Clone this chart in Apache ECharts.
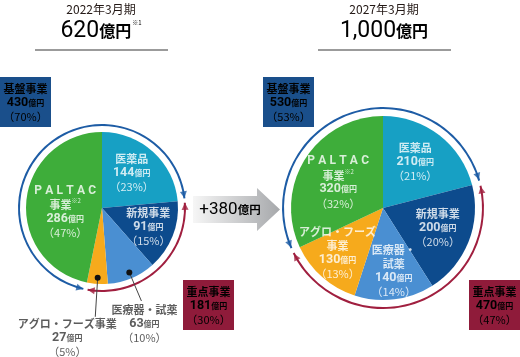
<!DOCTYPE html>
<html><head><meta charset="utf-8">
<script src="https://cdn.jsdelivr.net/npm/echarts@6/dist/echarts.min.js"></script>
<style>html,body{margin:0;padding:0;background:#fff}#c{width:520px;height:357px}</style>
</head><body><div id="c"></div>
<script>
// ---- data ----
const segments = ['医薬品', '新規事業', '医療器・試薬', 'アグロ・フーズ事業', 'PALTAC事業'];
const values2022 = [144, 91, 63, 27, 286];
const pct2022 = [23, 15, 10, 5, 47];
const values2027 = [210, 200, 140, 130, 320];
const pct2027 = [21, 20, 14, 13, 32];
const periods = ['2022年3月期', '2027年3月期'];
const totals = [620, 1000];
const groupNames = ['基盤事業', '重点事業'];
const baseMembers = [0, 4];          // 医薬品 + PALTAC
const focusMembers = [1, 2, 3];      // 新規 + 医療器 + アグロ
const groupPct2022 = [70, 30];
const groupPct2027 = [53, 47];

// ---- style / layout ----
const F = '"Noto Sans CJK JP", "Noto Sans", sans-serif';
const NF = 'Roboto, "Noto Sans", sans-serif';
const sliceColors = ['#17a0c4', '#0d4b8d', '#4a8fd2', '#f6aa1c', '#3ead3a'];
const ringBlue = '#1d5ca5', ringRed = '#a01f3f';
const boxBlue = '#1a4f8b', boxRed = '#8f1b3a';
// label placement: [radius, dx, dy, position]
const P = [
  {cx: 102, cy: 208, r: 76, ring: 83,
   labels: [[38, 4, -7, 'inside'], [38, 11, 5, 'inside'], [101, 3, -1, 'bottom'], [109, -28, -3, 'bottom'], [38, 1, 8, 'inside']],
   outside: [2, 3]},
  {cx: 383, cy: 208, r: 92, ring: 100,
   labels: [[46, 4, -10, 'inside'], [46, 12, 3, 'inside'], [46, 5, 17, 'inside'], [46, -15, 10, 'inside'], [46, -6, -1, 'inside']],
   outside: []}
];
const labelText = [
  ['医薬品', '新規事業', '医療器・試薬', 'アグロ・フーズ事業', 'PALTAC|事業'],
  ['医薬品', '新規事業', '医療器・|試薬', 'アグロ・フーズ|事業', 'PALTAC|事業']
];

function makeRich(color) {
  return {
    n: {fontFamily: F, fontSize: 11, fontWeight: 'bold', lineHeight: 14, color: color},
    p: {fontFamily: NF, fontSize: 12, fontWeight: 'bold', lineHeight: 14, color: color, padding: [0, 1.6]},
    v: {fontFamily: NF, fontSize: 12.5, fontWeight: 'bold', lineHeight: 14, color: color},
    u: {fontFamily: F, fontSize: 8, fontWeight: 'bold', lineHeight: 14, color: color},
    s: {fontFamily: F, fontSize: 6, lineHeight: 14, color: color, verticalAlign: 'top'},
    c: {fontFamily: F, fontSize: 11, lineHeight: 14, color: color}
  };
}
function labelFmt(name, val, pct) {
  const parts = name.split('|');
  const lines = parts.map(t => {
    if (t === 'PALTAC') return t.split('').map(ch => '{p|' + ch + '}').join('');
    return '{n|' + t + '}' + (t === '事業' && parts[0] === 'PALTAC' ? '{s|※2}' : '');
  });
  return lines.join('\n') + '\n{v|' + val + '}{u|億円}\n{c|（' + pct + '%）}';
}

const yearData = [[values2022, pct2022], [values2027, pct2027]];
const series = [];
const polars = [], angleAxes = [], radiusAxes = [];

yearData.forEach(([vals, pcts], k) => {
  const L = P[k];
  const total = vals.reduce((a, b) => a + b, 0);
  const deg = v => v / total * 360;
  const cum = []; let acc = 0;
  vals.forEach(v => { cum.push(acc); acc += v; });
  // slices
  series.push({
    type: 'pie', center: [L.cx, L.cy], radius: L.r, startAngle: 90, clockwise: true,
    silent: true, animation: false, avoidLabelOverlap: false,
    itemStyle: {borderWidth: 0}, label: {show: false}, labelLine: {show: false},
    data: segments.map((s, i) => ({name: s, value: vals[i], itemStyle: {color: sliceColors[i]}}))
  });
  // group ring
  const baseVal = baseMembers.reduce((a, i) => a + vals[i], 0);
  const focusVal = focusMembers.reduce((a, i) => a + vals[i], 0);
  const paltacStart = cum[4];
  series.push({
    type: 'pie', center: [L.cx, L.cy], radius: [L.ring - 1, L.ring + 1],
    startAngle: 90 - deg(paltacStart), clockwise: true, padAngle: 3,
    silent: true, animation: false, label: {show: false}, labelLine: {show: false},
    data: [{name: groupNames[0], value: baseVal, itemStyle: {color: ringBlue}},
           {name: groupNames[1], value: focusVal, itemStyle: {color: ringRed}}]
  });
  // polar system sharing the pie centre
  polars.push({center: [L.cx, L.cy], radius: 130});
  angleAxes.push({polarIndex: k, type: 'value', min: 0, max: 360, startAngle: 90, clockwise: true,
    show: false, axisLine: {show: false}, axisTick: {show: false}, axisLabel: {show: false}, splitLine: {show: false}});
  radiusAxes.push({polarIndex: k, type: 'value', min: 0, max: 130, show: false,
    axisLine: {show: false}, axisTick: {show: false}, axisLabel: {show: false}, splitLine: {show: false}});
  // arrowheads
  const B1 = deg(cum[1]), B2 = deg(paltacStart), d = 4;
  const cw = t => -t - 90, ccw = t => 90 - t;
  const heads = [[B1 - d, cw, ringBlue], [B1 + d, ccw, ringRed], [B2 - d, cw, ringRed], [B2 + d, ccw, ringBlue]];
  series.push({
    type: 'scatter', coordinateSystem: 'polar', polarIndex: k, silent: true, animation: false,
    symbol: 'triangle', symbolSize: [7, 7],
    data: heads.map(([t, f, c]) => ({value: [L.ring, t], symbolRotate: f(t), itemStyle: {color: c}}))
  });
  // leader lines for outside labels
  L.outside.forEach(i => {
    const mid = deg(cum[i] + vals[i] / 2);
    series.push({
      type: 'line', coordinateSystem: 'polar', polarIndex: k, silent: true, animation: false,
      lineStyle: {color: '#444', width: 1}, itemStyle: {color: '#111'},
      data: [{value: [70, mid], symbol: 'circle', symbolSize: 6},
             {value: [L.labels[i][0], mid], symbol: 'none'}]
    });
  });
  // slice labels anchored at each slice's mid-angle
  series.push({
    type: 'scatter', coordinateSystem: 'polar', polarIndex: k, silent: true, animation: false,
    symbolSize: 0, z: 5,
    data: segments.map((s, i) => {
      const [lr, dx, dy, pos] = L.labels[i];
      const out = L.outside.indexOf(i) >= 0;
      const txt = out ? labelText[k][i].replace('|', '') : labelText[k][i];
      return {name: s, value: [lr, deg(cum[i] + vals[i] / 2)],
        label: {show: true, position: pos, distance: 3, offset: [dx, dy], align: 'center',
                rich: makeRich(out ? '#333' : '#fff'), formatter: labelFmt(txt, vals[i], pcts[i])}};
    })
  });
});

// ---- decorations ----
const graphic = [];
const titleX = [101, 384];
periods.forEach((p, k) => {
  graphic.push({type: 'text', x: titleX[k], y: 9, style: {text: p, font: '12px ' + F, fill: '#231815', align: 'center', verticalAlign: 'middle'}});
  graphic.push({type: 'text', x: titleX[k], y: 31, style: {
    text: '{b|' + totals[k].toLocaleString('en-US') + '}{u|億円}' + (k === 0 ? '{s|※1}' : ''),
    align: 'center', verticalAlign: 'middle',
    rich: {b: {fontFamily: NF, fontSize: 23, color: '#231815'},
           u: {fontFamily: F, fontSize: 16, fontWeight: 'bold', color: '#231815'},
           s: {fontFamily: F, fontSize: 6, color: '#231815', verticalAlign: 'top', padding: [0, 0, 10, 1]}}
  }});
  graphic.push({type: 'line', shape: {x1: titleX[k] - 66, y1: 50, x2: titleX[k] + 67, y2: 50}, style: {stroke: '#7a7a7a', lineWidth: 1.3}});
});
function box(x, y, color, name, val, pct) {
  graphic.push({type: 'rect', shape: {x: x, y: y, width: 51, height: 50}, style: {fill: color}});
  graphic.push({type: 'text', x: x + 25.5, y: y + 26, style: {
    text: '{n|' + name + '}\n{v|' + val + '}{u|億円}\n{c|（' + pct + '%）}',
    align: 'center', verticalAlign: 'middle', rich: {
      n: {fontFamily: F, fontSize: 11, fontWeight: 'bold', lineHeight: 14, color: '#fff'},
      v: {fontFamily: NF, fontSize: 12.5, fontWeight: 'bold', lineHeight: 14, color: '#fff'},
      u: {fontFamily: F, fontSize: 8, fontWeight: 'bold', lineHeight: 14, color: '#fff'},
      c: {fontFamily: F, fontSize: 11, lineHeight: 14, color: '#fff'}}
  }});
}
const sumOf = (vals, idx) => idx.reduce((a, i) => a + vals[i], 0);
box(0, 77, boxBlue, groupNames[0], sumOf(values2022, baseMembers), groupPct2022[0]);
box(183, 280, boxRed, groupNames[1], sumOf(values2022, focusMembers), groupPct2022[1]);
box(263, 77, boxBlue, groupNames[0], sumOf(values2027, baseMembers), groupPct2027[0]);
box(469, 280, boxRed, groupNames[1], sumOf(values2027, focusMembers), groupPct2027[1]);
// growth arrow
graphic.push({type: 'polygon', shape: {points: [[193, 196], [257, 196], [257, 188], [280, 209.5], [257, 231], [257, 223], [193, 223]]},
  style: {fill: new echarts.graphic.LinearGradient(0, 0, 1, 0, [{offset: 0, color: '#f6f6f6'}, {offset: 1, color: '#a6a8ab'}])}});
graphic.push({type: 'text', x: 230, y: 210, style: {
  text: '{b|+' + (totals[1] - totals[0]) + '}{u|億円}', align: 'center', verticalAlign: 'middle',
  rich: {b: {fontFamily: NF, fontSize: 17, color: '#231815'}, u: {fontFamily: F, fontSize: 11.5, fontWeight: 'bold', color: '#231815'}}
}});

const chart = echarts.init(document.getElementById('c'), null, {renderer: 'canvas'});
chart.setOption({
  animation: false,
  backgroundColor: '#fff',
  polar: polars, angleAxis: angleAxes, radiusAxis: radiusAxes,
  series: series,
  graphic: graphic
});
</script></body></html>
